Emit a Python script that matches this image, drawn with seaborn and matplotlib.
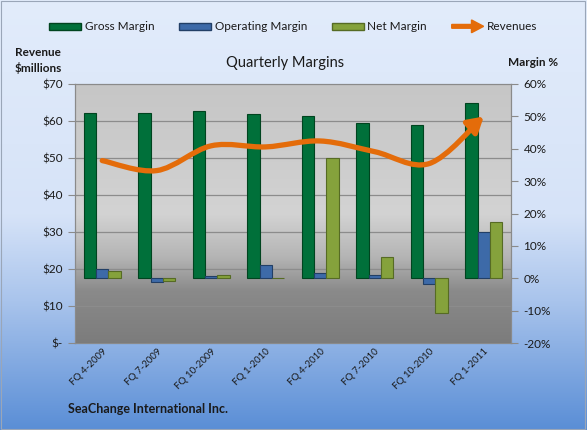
import numpy as np
import pandas as pd
import seaborn as sns
import matplotlib.pyplot as plt
import matplotlib.patches as mpatches
from matplotlib.path import Path
from matplotlib.colors import LinearSegmentedColormap
from matplotlib.legend_handler import HandlerPatch

# data
quarters = ["FQ 4-2009", "FQ 7-2009", "FQ 10-2009", "FQ 1-2010",
            "FQ 4-2010", "FQ 7-2010", "FQ 10-2010", "FQ 1-2011"]
gross_margin = [51.1, 51.0, 51.7, 50.8, 50.2, 48.0, 47.4, 54.2]
operating_margin = [2.8, -1.1, 0.8, 4.0, 1.5, 0.9, -1.7, 14.3]
net_margin = [2.1, -0.8, 1.1, 0.1, 37.1, 6.7, -10.7, 17.5]
revenues = [49.3, 46.6, 53.3, 53.0, 54.6, 51.7, 48.5, 61.2]

rev_ticks = [0, 10, 20, 30, 40, 50, 60, 70]
margin_ticks = [-20, -10, 0, 10, 20, 30, 40, 50, 60]

series = ["Gross Margin", "Operating Margin", "Net Margin"]
bar_colors = ["#00703a", "#3d6aa8", "#85a23c"]
edge_colors = ["#00441f", "#223f66", "#566b24"]
line_color = "#e46c0a"
text_color = "#1a1a1a"

sns.set_theme(style="white")
plt.rcParams['font.family'] = ['Lato', 'DejaVu Sans']

df = pd.DataFrame({
    "Quarter": quarters * 3,
    "Margin": gross_margin + operating_margin + net_margin,
    "Type": [s for s in series for _ in quarters],
})

W, H = 587, 430
fig = plt.figure(figsize=(W / 100, H / 100), dpi=100)

# figure background gradient (pale blue to blue)
bg = fig.add_axes([0, 0, 1, 1], zorder=-10)
fig_cmap = LinearSegmentedColormap.from_list(
    "figbg", [(0.0, "#5a8ed6"), (0.3, "#a9c4ec"), (0.5, "#d6e3f8"), (1.0, "#e2ecfb")])
bg.imshow(np.linspace(0, 1, 256).reshape(-1, 1)[::-1], aspect="auto", cmap=fig_cmap,
          extent=[0, 1, 0, 1])
bg.add_patch(mpatches.Rectangle((0.002, 0.003), 0.995, 0.994, fill=False,
                                edgecolor="#9aa6b8", lw=0.8))
bg.set_xlim(0, 1)
bg.set_ylim(0, 1)
bg.axis("off")

rect = [75 / W, 1 - 343 / H, 436 / W, 259 / H]

# plot area gradient (light gray to dark gray)
pa = fig.add_axes(rect, zorder=-5)
pa_cmap = LinearSegmentedColormap.from_list(
    "pabg", [(0.0, "#7c7c7c"), (0.2, "#8a8a8a"), (0.33, "#b4b4b4"),
             (0.5, "#d3d3d3"), (0.7, "#cdcdcd"), (1.0, "#c6c6c6")])
pa.imshow(np.linspace(0, 1, 256).reshape(-1, 1)[::-1], aspect="auto", cmap=pa_cmap,
          extent=[0, 1, 0, 1])
pa.axis("off")

ax = fig.add_axes(rect)
ax.patch.set_visible(False)

# horizontal gridlines follow the revenue axis
for r in rev_ticks[1:-1]:
    ax.plot([0, 1], [r / 70, r / 70], transform=ax.transAxes, color="#8c8c8c",
            lw=0.9, zorder=0.5)

sns.barplot(data=df, x="Quarter", y="Margin", hue="Type", palette=bar_colors,
            width=0.67, saturation=1, ax=ax, legend=False, zorder=2)
for cont, ec in zip(ax.containers, edge_colors):
    for bar in cont:
        bar.set_edgecolor(ec)
        bar.set_linewidth(0.8)

ax.set_xlim(-0.5, len(quarters) - 0.5)
ax.set_ylim(-20, 60)
ax.set_yticks(margin_ticks)
ax.set_yticklabels([f"{t}%" for t in margin_ticks])
ax.set_xlabel("")
ax.set_ylabel("")

ax2 = ax.twinx()
ax.yaxis.tick_right()
ax2.yaxis.tick_left()
ax2.set_ylim(0, 70)
ax2.set_yticks(rev_ticks)
ax2.set_yticklabels(["$-" if t == 0 else f"${t}" for t in rev_ticks])

# smoothed revenue line ending in an arrow
pts = np.column_stack([np.arange(len(revenues)), revenues])
verts = [pts[0]]
codes = [Path.MOVETO]
n = len(pts)
for i in range(n - 1):
    p0, p1 = pts[max(i - 1, 0)], pts[i]
    p2, p3 = pts[i + 1], pts[min(i + 2, n - 1)]
    verts += [p1 + (p2 - p0) / 6, p2 - (p3 - p1) / 6, p2]
    codes += [Path.CURVE4] * 3
arrow = mpatches.FancyArrowPatch(path=Path(verts, codes),
                                 arrowstyle="-|>,head_length=0.75,head_width=0.45",
                                 mutation_scale=12, lw=3.8, color=line_color,
                                 shrinkA=0, shrinkB=0, capstyle="round", zorder=5)
ax2.add_patch(arrow)

for a in (ax, ax2):
    for sp in a.spines.values():
        sp.set_color("#8a8a8a")
        sp.set_linewidth(0.8)
    a.tick_params(axis="y", direction="out", length=5, width=0.8, color="#8a8a8a",
                  labelsize=8.5, labelcolor=text_color, pad=4)
ax.tick_params(axis="x", length=0, pad=3)
ax.set_xticks(range(len(quarters)))
ax.set_xticklabels(quarters, rotation=45, ha="right", rotation_mode="anchor",
                   fontsize=7, color=text_color)


# legend across the top
def make_arrow(legend, orig_handle, xdescent, ydescent, width, height, fontsize):
    return mpatches.FancyArrow(-xdescent, height / 2 - ydescent, width, 0,
                               width=height * 0.5, head_width=height * 1.7,
                               head_length=width * 0.38, length_includes_head=True)


handles = [mpatches.Patch(facecolor=c, edgecolor=e) for c, e in zip(bar_colors, edge_colors)]
rev_handle = mpatches.Patch(facecolor=line_color, edgecolor=line_color)
handles.append(rev_handle)
fig.legend(handles, series + ["Revenues"], loc="center", bbox_to_anchor=(0.5, 1 - 27 / H),
           ncol=4, frameon=False, fontsize=8.5, handlelength=2.7, handleheight=0.6,
           handletextpad=0.3, columnspacing=2.1, labelcolor=text_color,
           handler_map={rev_handle: HandlerPatch(patch_func=make_arrow)})

fig.text(38 / W, 1 - 52 / H, "Revenue", ha="center", va="center", fontsize=8.5,
         fontweight="bold", color=text_color)
fig.text(38 / W, 1 - 68 / H, "$millions", ha="center", va="center", fontsize=8.5,
         fontweight="bold", color=text_color)
fig.text(533 / W, 1 - 63 / H, "Margin %", ha="center", va="center", fontsize=8.5,
         fontweight="bold", color=text_color)
fig.text(285 / W, 1 - 63 / H, "Quarterly Margins", ha="center", va="center",
         fontsize=10.5, color=text_color)
fig.text(68 / W, 1 - 409 / H, "SeaChange International Inc.", ha="left", va="center",
         fontsize=9, fontweight="bold", color=text_color)

fig.savefig("out.png", dpi=100)
